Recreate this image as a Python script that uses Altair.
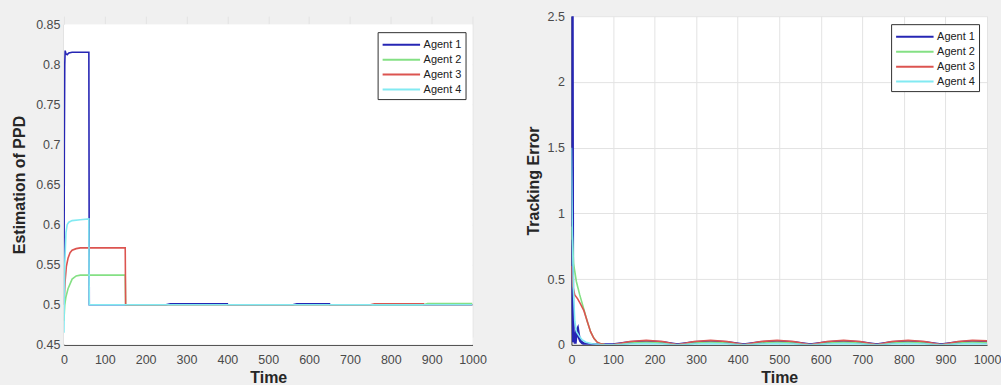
import altair as alt
import pandas as pd

agents = ["Agent 1", "Agent 2", "Agent 3", "Agent 4"]
colors = ["#2626b4", "#84e084", "#dc5450", "#82eaf2"]

x_ticks = [0, 100, 200, 300, 400, 500, 600, 700, 800, 900, 1000]
left_y_ticks = [0.45, 0.5, 0.55, 0.6, 0.65, 0.7, 0.75, 0.8, 0.85]
right_y_ticks = [0, 0.5, 1, 1.5, 2, 2.5]
left_x_domain = [0, 1000]
left_y_domain = [0.45, 0.85]

# ---- Left panel: Estimation of PPD ----
ppd_t1 = [0, 1, 2, 3, 5, 8, 12, 20, 40, 61, 62, 100, 150, 250, 260, 400, 401, 560, 570, 650, 651, 1000]
ppd_v1 = [0.5, 0.7, 0.8, 0.817, 0.813, 0.812, 0.814, 0.815, 0.815, 0.815, 0.5, 0.5, 0.5, 0.5, 0.5012, 0.5012, 0.5, 0.5, 0.5012, 0.5012, 0.5, 0.5]
ppd_t2 = [0, 2, 5, 10, 20, 30, 40, 60, 100, 150, 151, 300, 600, 880, 890, 1000]
ppd_v2 = [0.48, 0.5, 0.51, 0.52, 0.532, 0.536, 0.537, 0.537, 0.537, 0.537, 0.5, 0.5, 0.5, 0.5, 0.5015, 0.5015]
ppd_t3 = [0, 3, 6, 10, 15, 20, 30, 40, 60, 100, 150, 151, 750, 760, 880, 881, 1000]
ppd_v3 = [0.5, 0.53, 0.548, 0.558, 0.565, 0.568, 0.57, 0.571, 0.571, 0.571, 0.571, 0.5, 0.5, 0.5012, 0.5012, 0.5, 0.5]
ppd_t4 = [0, 2, 5, 8, 12, 20, 40, 61, 62, 100, 1000]
ppd_v4 = [0.465, 0.55, 0.59, 0.6, 0.603, 0.605, 0.606, 0.607, 0.5, 0.5, 0.5]

# ---- Right panel: Tracking Error ----
hump_t = [100, 140, 180, 220, 255, 295, 335, 375, 415, 455, 495, 535, 575, 615, 655, 695, 735, 770, 810, 850, 890, 930, 965, 1000]
err_t1 = [0, 2, 3, 5, 7, 9, 12, 15, 18, 22, 26, 30, 40, 60] + hump_t
err_v1 = [2.5, 2.5, 0.3, 0.02, 0.08, 0.01, 0.1, 0.12, 0.06, 0.03, 0.015, 0.008, 0.003, 0.0,
          0.0, 0.018, 0.024, 0.018, 0.0, 0.018, 0.024, 0.018, 0.0, 0.018, 0.024, 0.018,
          0.0, 0.018, 0.024, 0.018, 0.0, 0.018, 0.024, 0.018, 0.0, 0.018, 0.024, 0.02]
err_t2 = [0, 1, 5, 12, 20, 30, 38, 46, 54, 62, 70, 80, 90] + hump_t
err_v2 = [0.8, 0.9, 0.62, 0.48, 0.38, 0.27, 0.18, 0.10, 0.05, 0.02, 0.008, 0.002, 0.0,
          0.0, 0.014, 0.02, 0.014, 0.0, 0.014, 0.02, 0.014, 0.0, 0.014, 0.02, 0.014,
          0.0, 0.014, 0.02, 0.014, 0.0, 0.014, 0.02, 0.014, 0.0, 0.014, 0.02, 0.016]
err_t3 = [0, 3, 8, 15, 22, 30, 38, 46, 54, 62, 70, 80, 95] + hump_t
err_v3 = [0.6, 0.45, 0.38, 0.35, 0.31, 0.26, 0.18, 0.10, 0.05, 0.02, 0.008, 0.002, 0.0,
          0.0, 0.026, 0.034, 0.025, 0.0, 0.026, 0.034, 0.025, 0.0, 0.026, 0.034, 0.025,
          0.0, 0.026, 0.034, 0.025, 0.0, 0.026, 0.034, 0.025, 0.0, 0.026, 0.034, 0.03]
err_t4 = [0, 2, 5, 8, 12, 18, 25, 35, 50, 70] + hump_t
err_v4 = [1.5, 0.9, 0.4, 0.18, 0.1, 0.07, 0.04, 0.02, 0.008, 0.002,
          0.0, 0.006, 0.009, 0.006, 0.0, 0.006, 0.009, 0.006, 0.0, 0.006, 0.009, 0.006,
          0.0, 0.006, 0.009, 0.006, 0.0, 0.006, 0.009, 0.006, 0.0, 0.006, 0.009, 0.007]


def frame(ts, vs):
    rows = []
    for a, t, v in zip(agents, ts, vs):
        for ti, vi in zip(t, v):
            rows.append({"agent": a, "t": ti, "v": vi})
    return pd.DataFrame(rows)


df_left = frame([ppd_t1, ppd_t2, ppd_t3, ppd_t4], [ppd_v1, ppd_v2, ppd_v3, ppd_v4])
df_right = frame([err_t1, err_t2, err_t3, err_t4], [err_v1, err_v2, err_v3, err_v4])
df_bg = pd.DataFrame({"x0": [left_x_domain[0]], "x1": [left_x_domain[1]],
                      "y0": [left_y_domain[0]], "y1": [left_y_domain[1]]})

FONT = "Liberation Sans"
BG = "#f0f0f0"


def axis(values, title, label_pad, title_pad, fmt):
    return alt.Axis(values=values, title=title, format=fmt, ticks=False,
                    labelPadding=label_pad, titlePadding=title_pad,
                    grid=True, gridColor="#e3e3e3", domainColor="#3a3a3a",
                    labelColor="#4a4a4a", labelFontSize=12.5, labelFont=FONT,
                    titleFont=FONT, titleFontSize=16, titleFontWeight="bold",
                    titleColor="#262626", labelFlush=False)


def legend(lx, ly):
    return alt.Legend(title=None, orient="none", legendX=lx, legendY=ly, fillColor="white",
                      strokeColor="#303030", padding=4, labelFontSize=11, labelFont=FONT,
                      labelColor="#202020", symbolType="M-1,0H4", symbolSize=225,
                      symbolStrokeWidth=2, rowPadding=1, labelOffset=25)


LH = 329  # panel height (shared row)
left_x = alt.X("t:Q", scale=alt.Scale(domain=left_x_domain, nice=False),
               axis=axis(x_ticks, "Time", 9, 3, "d"))
left_y = alt.Y("v:Q", scale=alt.Scale(domain=left_y_domain, nice=False, zero=False, range=[LH, 8]),
               axis=axis(left_y_ticks, "Estimation of PPD", 4, 8, "~g"))

left_bg = alt.Chart(df_bg).mark_rect(color="white").encode(
    x=alt.X("x0:Q", scale=alt.Scale(domain=left_x_domain, nice=False)),
    x2="x1:Q",
    y=alt.Y("y0:Q", scale=alt.Scale(domain=left_y_domain, nice=False, zero=False, range=[LH, 8])),
    y2="y1:Q",
)
left_lines = alt.Chart(df_left).mark_line(strokeWidth=1.6, clip=True).encode(
    x=left_x, y=left_y,
    color=alt.Color("agent:N", scale=alt.Scale(domain=agents, range=colors), legend=legend(314, 16)),
)
left = alt.layer(left_bg, left_lines).properties(
    width=409, height=LH, view=alt.ViewBackground(fill=BG, strokeOpacity=0))

right = alt.Chart(df_right).mark_line(clip=True).encode(
    x=alt.X("t:Q", scale=alt.Scale(domain=[0, 1000], nice=False),
            axis=axis(x_ticks, "Time", 9, 3, "d")),
    y=alt.Y("v:Q", scale=alt.Scale(domain=[0, 2.5], nice=False),
            axis=axis(right_y_ticks, "Tracking Error", 7, 6, "~g")),
    color=alt.Color("agent:N", scale=alt.Scale(domain=agents, range=colors), legend=legend(320, 8)),
    strokeWidth=alt.condition(alt.datum.agent == "Agent 1", alt.value(3), alt.value(1.6)),
).properties(width=416, height=LH)

chart = alt.hconcat(left, right, spacing=38).resolve_scale(
    color="independent"
).configure(
    background=BG, padding={"left": 11, "top": 10, "right": 0, "bottom": 0}
).configure_view(fill="white", stroke=None)

chart.save("out.html", embed_options={"renderer": "svg", "actions": False})
